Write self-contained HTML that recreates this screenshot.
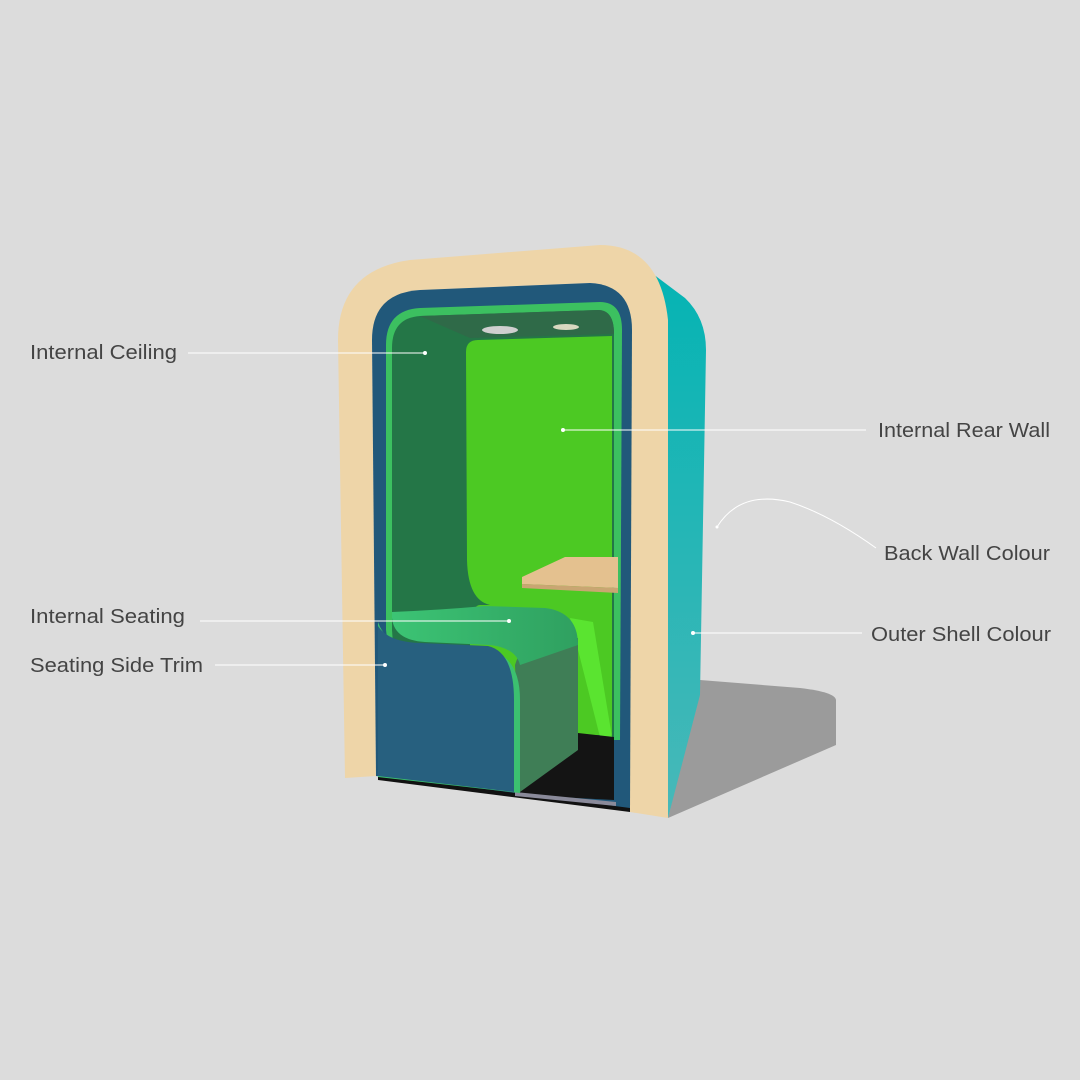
<!DOCTYPE html>
<html><head><meta charset="utf-8"><style>
html,body{margin:0;padding:0;background:#dcdcdc;}
svg{display:block}
text{font-family:"Liberation Sans",sans-serif;font-size:20px;fill:#444;}
</style></head><body>
<svg width="1080" height="1080" viewBox="0 0 1080 1080" xmlns="http://www.w3.org/2000/svg">
<defs>
<linearGradient id="cy" x1="0" y1="0" x2="0" y2="1">
<stop offset="0" stop-color="#04b4b4"/><stop offset="1" stop-color="#48b8b8"/></linearGradient>
<linearGradient id="seat" x1="0" y1="0" x2="1" y2="0">
<stop offset="0" stop-color="#3cc474"/><stop offset="1" stop-color="#2fa060"/></linearGradient>
</defs>
<rect width="1080" height="1080" fill="#dcdcdc"/>
<!-- shadow -->
<path d="M700 680 L800 688 Q835 692 836 700 L836 745 L668 818 Z" fill="#9b9b9b"/>
<!-- cyan side -->
<path d="M645 268 L685 298 Q706 318 706 350 L700 695 L668 818 L660 300 Z" fill="url(#cy)"/>
<!-- wood frame -->
<path d="M345 778 L338 340 Q338 270 410 260 L600 245 Q660 245 668 320 L668 818 L630 812 L630 330 Q630 285 590 283 L420 290 Q372 295 372 340 L376 776 Z" fill="#eed5a8"/>
<!-- dark blue frame -->
<path d="M376 776 L372 340 Q372 293 420 290 L590 283 Q632 285 632 330 L630 810 Z" fill="#21587a"/>
<path d="M378 775 L630 808 L630 812 L378 780 Z" fill="#111"/>
<!-- green trim + dark side wall -->
<path d="M386 630 L386 345 Q386 310 420 308 L600 302 Q622 302 622 330 L620 740 L400 740 Z" fill="#3cc060"/>
<path d="M392 630 L392 348 Q392 318 420 316 L598 310 Q614 310 614 334 L614 740 L400 740 Z" fill="#247647"/>
<path d="M420 316 L598 310 Q614 310 614 334 L470 338 Q440 325 420 316 Z" fill="#2f6a48"/>
<ellipse cx="500" cy="330" rx="18" ry="4" fill="#cfcfcf"/>
<ellipse cx="566" cy="327" rx="13" ry="3" fill="#d8d8c0"/>
<!-- rear wall -->
<path d="M478 340 L612 336 L612 735 L470 735 L470 640 Q470 605 480 605 L490 605 Q468 600 467 560 L466 352 Q466 340 478 340 Z" fill="#4cc923"/>
<path d="M570 618 L593 622 L612 737 L600 737 Z" fill="#5ae430"/>
<!-- floor -->
<path d="M520 790 L578 745 L578 733 L614 737 L614 800 L520 795 Z" fill="#141414"/>
<path d="M515 792 L616 802 L616 806 L515 796 Z" fill="#8a8a9a"/>
<!-- table -->
<path d="M522 577 L565 557 L618 557 L618 588 L522 584 Z" fill="#e4c18f"/>
<path d="M522 584 L618 588 L618 593 L522 588 Z" fill="#c9a672"/>
<!-- seat side -->
<path d="M515 665 Q520 645 545 640 L578 638 L578 750 L520 792 Z" fill="#3f7e56"/>
<!-- seat top -->
<path d="M392 618 Q394 640 425 642 L490 645 Q516 648 520 665 L578 645 Q578 612 545 608 L485 606 Q440 610 392 612 Z" fill="url(#seat)"/>
<!-- seating side trim -->
<path d="M378 622 Q386 646 420 647 L488 650 Q520 656 520 700 L520 793 L378 777 Z" fill="#3cc070"/>
<path d="M378 626 Q388 642 420 643 L488 646 Q514 652 514 700 L514 792 L378 776 Z" fill="#27607f"/>
<!-- connectors -->
<g stroke="#fff" stroke-width="1" fill="none">
<line x1="188" y1="353" x2="425" y2="353"/>
<line x1="563" y1="430" x2="866" y2="430"/>
<line x1="200" y1="621" x2="509" y2="621"/>
<line x1="215" y1="665" x2="385" y2="665"/>
<line x1="693" y1="633" x2="862" y2="633"/>
<path d="M717 527 Q740 490 790 502 Q830 515 876 548"/>
</g>
<g fill="#fff">
<circle cx="425" cy="353" r="2"/><circle cx="563" cy="430" r="2"/>
<circle cx="509" cy="621" r="2"/><circle cx="385" cy="665" r="2"/>
<circle cx="693" cy="633" r="2"/><circle cx="717" cy="527" r="1.5"/>
</g>
<text x="30" y="359" textLength="147" lengthAdjust="spacingAndGlyphs">Internal Ceiling</text>
<text x="30" y="623" textLength="155" lengthAdjust="spacingAndGlyphs">Internal Seating</text>
<text x="30" y="672" textLength="173" lengthAdjust="spacingAndGlyphs">Seating Side Trim</text>
<text x="878" y="437" textLength="172" lengthAdjust="spacingAndGlyphs">Internal Rear Wall</text>
<text x="884" y="560" textLength="166" lengthAdjust="spacingAndGlyphs">Back Wall Colour</text>
<text x="871" y="641" textLength="180" lengthAdjust="spacingAndGlyphs">Outer Shell Colour</text>
</svg>
</body></html>
